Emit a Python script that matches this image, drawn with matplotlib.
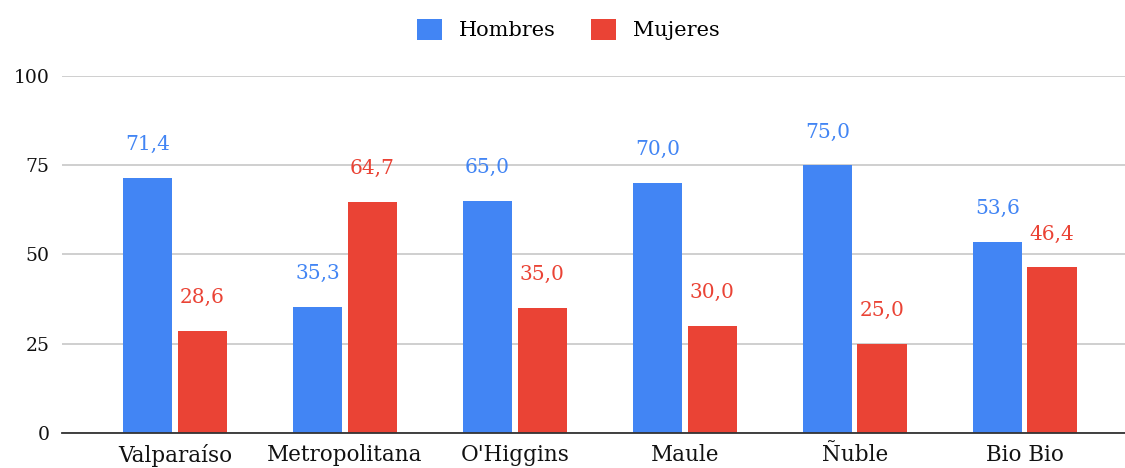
import numpy as np
import matplotlib.pyplot as plt

regiones = ["Valparaíso", "Metropolitana", "O'Higgins", "Maule", "Ñuble", "Bio Bio"]
hombres = [71.4, 35.3, 65.0, 70.0, 75.0, 53.6]
mujeres = [28.6, 64.7, 35.0, 30.0, 25.0, 46.4]
ticks_y = [0, 25, 50, 75, 100]

azul = "#4285F4"
rojo = "#EA4335"

plt.rcParams['font.family'] = ['DejaVu Serif']

fig = plt.figure(figsize=(11.25, 4.68), dpi=100)
ax = fig.add_axes([0.055, 0.075, 0.945, 0.763])

x = np.arange(len(regiones))
ancho = 0.29
sep = 0.016
b1 = ax.bar(x - ancho / 2 - sep, hombres, ancho, color=azul, label="Hombres", zorder=3)
b2 = ax.bar(x + ancho / 2 + sep, mujeres, ancho, color=rojo, label="Mujeres", zorder=3)

def fmt(v):
    return ("%.1f" % v).replace(".", ",")

for barras, valores, color in [(b1, hombres, azul), (b2, mujeres, rojo)]:
    for b, v in zip(barras, valores):
        ax.annotate(fmt(v), (b.get_x() + b.get_width() / 2, v), xytext=(0, 17),
                    textcoords="offset points", ha="center", va="bottom",
                    color=color, fontsize=14.5)

ax.set_ylim(0, 100)
ax.set_xlim(-0.665, 5.59)
ax.set_yticks(ticks_y)
ax.set_yticklabels([str(t) for t in ticks_y], fontsize=13.5)
ax.set_xticks(x)
ax.set_xticklabels(regiones, fontsize=15.5)
ax.tick_params(axis="both", length=0, colors="#111111")
ax.tick_params(axis="y", pad=9)
ax.tick_params(axis="x", pad=8)
ax.yaxis.grid(True, color="#cccccc", linewidth=1.3, zorder=0)
for s in ["top", "right", "left"]:
    ax.spines[s].set_visible(False)
ax.spines["bottom"].set_color("#333333")
ax.spines["bottom"].set_linewidth(1.3)
ax.spines["bottom"].set_zorder(4)

leg = fig.legend(handles=[b1, b2], loc="upper center", bbox_to_anchor=(0.505, 1.0),
                 ncol=2, frameon=False, fontsize=15, handlelength=1.2, handleheight=1.2,
                 columnspacing=1.7, handletextpad=0.8)

fig.savefig("out.png", dpi=100)
